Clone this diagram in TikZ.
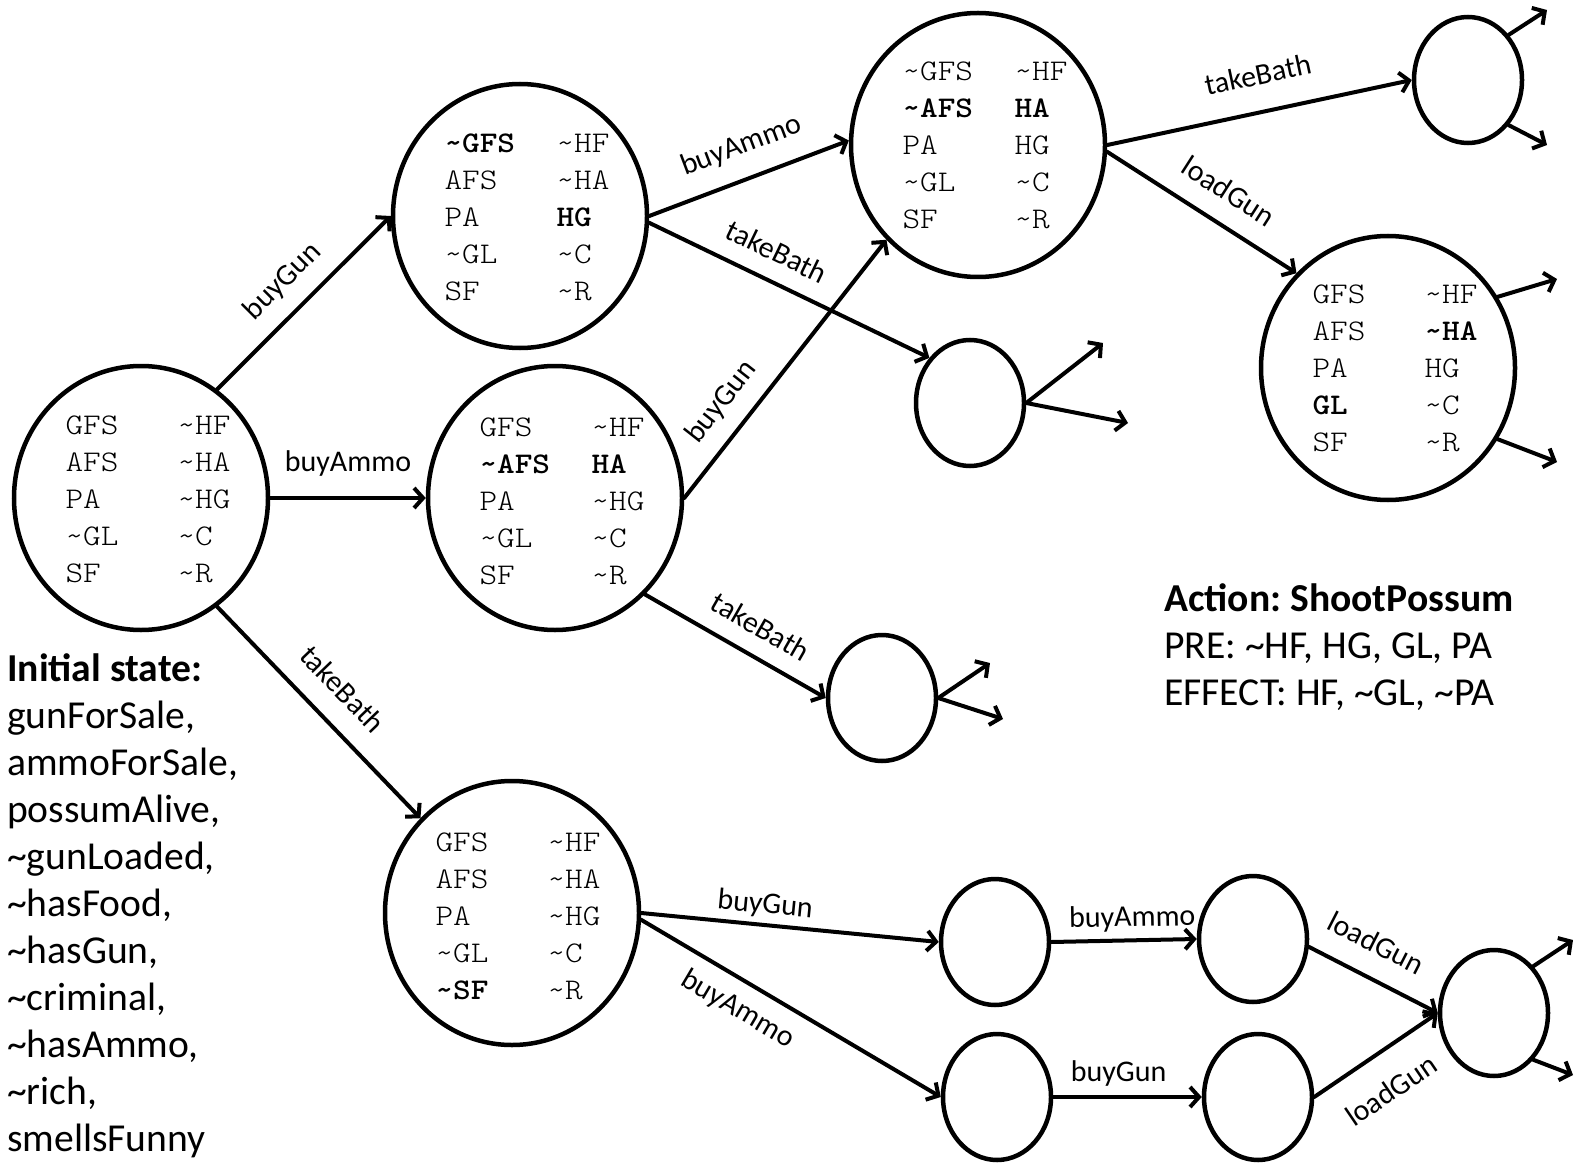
\documentclass[tikz,border=0pt]{standalone}
\usepackage{fontspec}
\setmainfont{Carlito}
\newfontfamily\monofam{lmmonolt10-regular.otf}[BoldFont=lmmonolt10-bold.otf, FakeStretch=1.12]
\usetikzlibrary{arrows.meta,shapes.geometric}
\newcommand\tld{\textasciitilde}
\newcommand\stfacts[1]{\begin{tabular}{@{}p{112pt}@{}l@{}}#1\end{tabular}}
\frenchspacing
\begin{document}
\begin{tikzpicture}[x=1pt,y=-1pt,
  big/.style={ellipse, draw, line width=4.5pt, minimum width=254pt, minimum height=264pt, inner sep=0pt},
  small/.style={ellipse, draw, line width=4.5pt, minimum width=108pt, minimum height=126pt, inner sep=0pt},
  facts/.style={font=\monofam\fontsize{30}{37}\selectfont, inner sep=0pt, anchor=center},
  edge/.style={line width=4pt, line cap=round, line join=round, -{Straight Barb[length=9pt,width=20pt]}},
  lbl/.style={font=\fontsize{30}{36}\selectfont, sloped, inner sep=3pt},
  txt/.style={font=\fontsize{39.6}{47}\selectfont, align=left, anchor=north west, inner sep=0pt}]
\useasboundingbox (0,0) rectangle (1574,1166);

% big states
\node[big] (s0) at (141,498) {};
\node[facts] (s0t) at ([shift={(7,3)}]s0.center) {\stfacts{GFS & \tld HF\\ AFS & \tld HA\\ PA & \tld HG\\ \tld GL & \tld C\\ SF & \tld R}};
\node[big] (s1) at (520,216) {};
\node[facts] (s1t) at ([shift={(7,3)}]s1.center) {\stfacts{\textbf{\tld GFS} & \tld HF\\ AFS & \tld HA\\ PA & \textbf{HG}\\ \tld GL & \tld C\\ SF & \tld R}};
\node[big] (s2) at (555,498) {};
\node[facts] (s2t) at ([shift={(7,5)}]s2.center) {\stfacts{GFS & \tld HF\\ \textbf{\tld AFS} & \textbf{HA}\\ PA & \tld HG\\ \tld GL & \tld C\\ SF & \tld R}};
\node[big] (s3) at (978,145) {};
\node[facts] (s3t) at ([shift={(7,2)}]s3.center) {\stfacts{\tld GFS & \tld HF\\ \textbf{\tld AFS} & \textbf{HA}\\ PA & HG\\ \tld GL & \tld C\\ SF & \tld R}};
\node[big] (s4) at (1388,368) {};
\node[facts] (s4t) at ([shift={(7,2)}]s4.center) {\stfacts{GFS & \tld HF\\ AFS & \textbf{\tld HA}\\ PA & HG\\ \textbf{GL} & \tld C\\ SF & \tld R}};
\node[big] (s5) at (512,913) {};
\node[facts] (s5t) at ([shift={(6,5)}]s5.center) {\stfacts{GFS & \tld HF\\ AFS & \tld HA\\ PA & \tld HG\\ \tld GL & \tld C\\ \textbf{\tld SF} & \tld R}};

% small states
\node[small] (e1) at (1468,80) {};
\node[small] (e2) at (970,403) {};
\node[small] (e3) at (882,698) {};
\node[small] (b1) at (995,942) {};
\node[small] (b2) at (1253,939) {};
\node[small] (b3) at (997,1097) {};
\node[small] (b4) at (1258,1097) {};
\node[small] (b5) at (1494,1013) {};

% free ends
\coordinate (e1u) at (1547,10);
\coordinate (e1d) at (1547,145);
\coordinate (s4u) at (1557,279);
\coordinate (s4d) at (1557,462);
\coordinate (e2u) at (1103,343);
\coordinate (e2d) at (1128,423);
\coordinate (e3u) at (990,663);
\coordinate (e3d) at (1003,719);
\coordinate (b5u) at (1573,940);
\coordinate (b5d) at (1573,1075);

% labelled edges
\draw[edge] (s0.55) -- node[lbl, above=12pt, pos=0.5] {buyGun} (s1.west);
\draw[edge] (s0.east) -- node[lbl, above=17pt] {buyAmmo} (s2.west);
\draw[edge] (s0.305) -- node[lbl, above=18pt, pos=0.5] {takeBath} (s5.134);
\draw[edge] (s1.east) -- node[lbl, above=15pt, pos=0.52] {buyAmmo} (s3.178);
\draw[edge] (s1.-3) -- node[lbl, above=14pt, pos=0.41] {takeBath} (e2.132);
\draw[edge] (s2.east) -- node[lbl, above=12pt, pos=0.3] {buyGun} (s3.226);
\draw[edge] (s2.313) -- node[lbl, above=14pt, pos=0.56] {takeBath} (e3.west);
\draw[edge] (s3.east) -- node[lbl, above=22pt, pos=0.52] {takeBath} (e1.west);
\draw[edge] (s3.-3) -- node[lbl, above=17pt, pos=0.55] {loadGun} (s4.134);
\draw[edge] (s5.east) -- node[lbl, above=2pt, pos=0.41] {buyGun} (b1.west);
\draw[edge] (s5.-3) -- node[lbl, below=10pt, pos=0.37] {buyAmmo} (b3.west);
\draw[edge] (b1.east) -- node[lbl, above=4pt, pos=0.56] {buyAmmo} (b2.west);
\draw[edge] (b3.east) -- node[lbl, above=6pt, pos=0.44] {buyGun} (b4.west);
\draw[edge] (b2.-8) -- node[lbl, above=19pt, pos=0.4] {loadGun} (b5.west);
\draw[edge] (b4.east) -- node[lbl, below=22pt, pos=0.45] {loadGun} (b5.west);

% outgoing stubs
\draw[edge] (e1.48) -- (e1u);
\draw[edge] (e1.-48) -- (e1d);
\draw[edge] (s4.33) -- (s4u);
\draw[edge] (s4.-33) -- (s4d);
\draw[edge] (e2.east) -- (e2u);
\draw[edge] (e2.east) -- (e2d);
\draw[edge] (e3.east) -- (e3u);
\draw[edge] (e3.east) -- (e3d);
\draw[edge] (b5.50) -- (b5u);
\draw[edge] (b5.-50) -- (b5d);

% texts
\node[txt] (init) at (7,653) {\textbf{Initial state:}\\ gunForSale,\\ ammoForSale,\\ possumAlive,\\ \tld gunLoaded,\\ \tld hasFood,\\ \tld hasGun,\\ \tld criminal,\\ \tld hasAmmo,\\ \tld rich,\\ smellsFunny};
\node[txt] (action) at (1164,583) {\textbf{Action: ShootPossum}\\ PRE: \tld HF, HG, GL, PA\\ EFFECT: HF, \tld GL, \tld PA};
\end{tikzpicture}
\end{document}
